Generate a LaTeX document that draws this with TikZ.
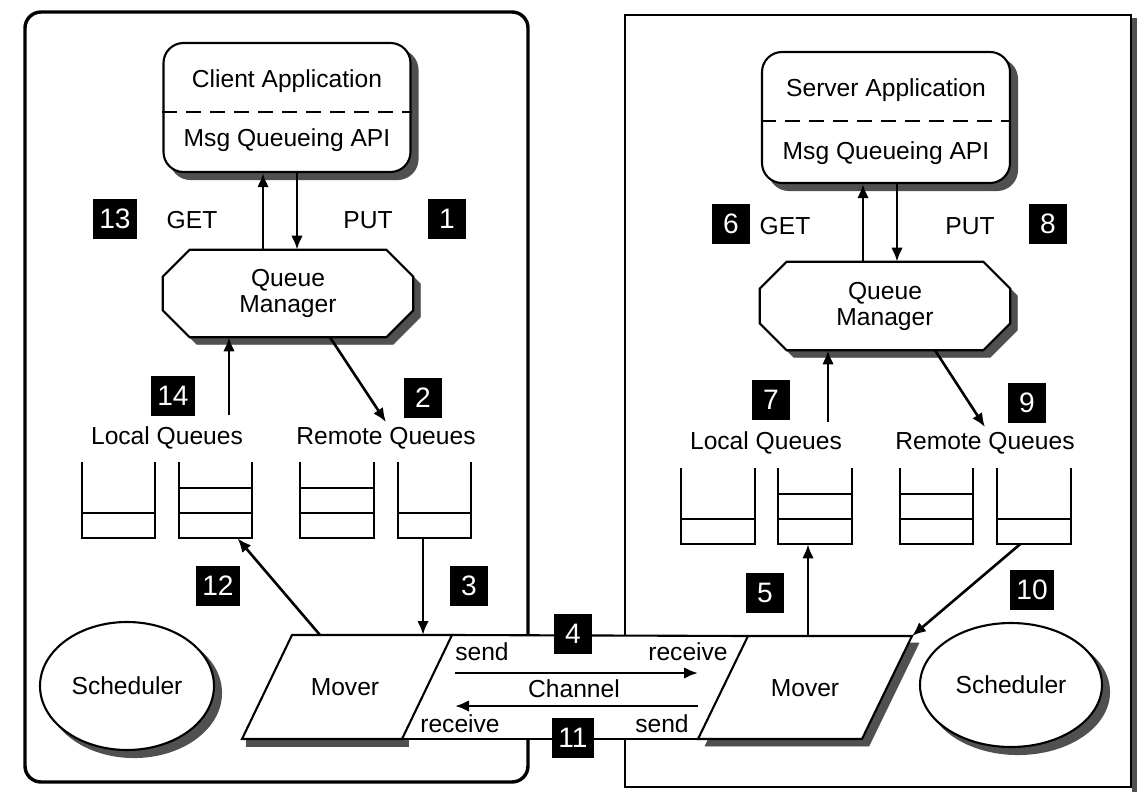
\documentclass[tikz,border=0pt]{standalone}
\usepackage{fontspec}
\setmainfont{Liberation Sans}
\usetikzlibrary{arrows.meta,shapes.geometric}
\newdimen\pxu
\pxu=0.025cm
\definecolor{shadowgray}{RGB}{80,80,80}

\tikzset{
  shadowed/.style={fill=white, preaction={draw=shadowgray, fill=shadowgray, transform canvas={xshift=0.175cm, yshift=-0.175cm}}},
  num/.style={fill=black, text=white, inner xsep=6\pxu, inner ysep=0pt, minimum width=38\pxu, minimum height=40\pxu, font=\fontsize{20}{20}\selectfont},
  flow/.style={line width=2.6\pxu, -{Latex[length=0.35cm, width=0.29cm]}},
  outline/.style={line width=2.1\pxu},
  queue/.style={minimum width=73\pxu, minimum height=76\pxu, inner sep=0pt},
  frame/.style={line width=3.4\pxu, rounded corners=16\pxu}
}

\begin{document}
\begin{tikzpicture}[x=\pxu, y=-\pxu, font=\fontsize{17.5}{18.5}\selectfont]
\useasboundingbox (0,0) rectangle (1140,802);

% the two systems
\draw[frame] (528,635) -- (528,12) -- (25,12) -- (25,782) -- (528,782) -- (528,739);
\draw[line width=2.4\pxu] (625,636) -- (625,15) -- (1131,15) -- (1131,787) -- (625,787) -- (625,739);
\draw[line width=5\pxu, shadowgray] (1134.5,18) -- (1134.5,792);

% client side
\node[shadowed, draw, outline, rounded corners=20\pxu, minimum width=247\pxu, minimum height=129\pxu] (cbox) at (287,107.5) {};
\draw[outline, dash pattern=on 15\pxu off 9\pxu] ([yshift=-4.5\pxu]cbox.west) -- ([yshift=-4.5\pxu]cbox.east);
\node (capp) at (287,81) {Client Application};
\node (capi) at (287,140) {Msg Queueing API};

\node[minimum width=250\pxu, minimum height=87\pxu] (cqm) at (288,293.5) {};
\draw[shadowed, outline] ([xshift=27\pxu]cqm.north west) -- ([xshift=-27\pxu]cqm.north east)
  -- ([yshift=-27\pxu]cqm.north east) -- ([yshift=27\pxu]cqm.south east)
  -- ([xshift=-27\pxu]cqm.south east) -- ([xshift=27\pxu]cqm.south west)
  -- ([yshift=27\pxu]cqm.south west) -- ([yshift=-27\pxu]cqm.north west) -- cycle;
\node[align=center] (cqmtext) at (cqm) {Queue\\Manager};

\node (cget) at (192,220) {GET};
\node (cput) at (368,220) {PUT};
\node (clq) at (167,438) {Local Queues};
\node (crq) at (386,438) {Remote Queues};

\node[queue] (cq1) at (118.5,500) {};
\node[queue] (cq2) at (215.5,500) {};
\node[queue] (cq3) at (337,500) {};
\node[queue] (cq4) at (434.5,500) {};
\draw[outline] (cq1.north west) -- (cq1.south west) -- (cq1.south east) -- (cq1.north east);
\draw[outline] ([yshift=25\pxu]cq1.south west) -- ([yshift=25\pxu]cq1.south east);
\draw[outline] (cq2.north west) -- (cq2.south west) -- (cq2.south east) -- (cq2.north east);
\draw[outline] ([yshift=25\pxu]cq2.south west) -- ([yshift=25\pxu]cq2.south east);
\draw[outline] ([yshift=50\pxu]cq2.south west) -- ([yshift=50\pxu]cq2.south east);
\draw[outline] (cq3.north west) -- (cq3.south west) -- (cq3.south east) -- (cq3.north east);
\draw[outline] ([yshift=25\pxu]cq3.south west) -- ([yshift=25\pxu]cq3.south east);
\draw[outline] ([yshift=50\pxu]cq3.south west) -- ([yshift=50\pxu]cq3.south east);
\draw[outline] (cq4.north west) -- (cq4.south west) -- (cq4.south east) -- (cq4.north east);
\draw[outline] ([yshift=25\pxu]cq4.south west) -- ([yshift=25\pxu]cq4.south east);

\node[ellipse, draw, outline, shadowed, minimum width=174\pxu, minimum height=128\pxu, inner sep=0pt] (csch) at (127,686) {Scheduler};

% server side
\node[shadowed, draw, outline, rounded corners=20\pxu, minimum width=248\pxu, minimum height=131\pxu] (sbox) at (886,117.5) {};
\draw[outline, dash pattern=on 15\pxu off 9\pxu] ([yshift=-3.5\pxu]sbox.west) -- ([yshift=-3.5\pxu]sbox.east);
\node (sapp) at (886,90) {Server Application};
\node (sapi) at (886,153) {Msg Queueing API};

\node[minimum width=250\pxu, minimum height=88\pxu] (sqm) at (885,306) {};
\draw[shadowed, outline] ([xshift=27\pxu]sqm.north west) -- ([xshift=-27\pxu]sqm.north east)
  -- ([yshift=-27\pxu]sqm.north east) -- ([yshift=27\pxu]sqm.south east)
  -- ([xshift=-27\pxu]sqm.south east) -- ([xshift=27\pxu]sqm.south west)
  -- ([yshift=27\pxu]sqm.south west) -- ([yshift=-27\pxu]sqm.north west) -- cycle;
\node[align=center] (sqmtext) at (sqm) {Queue\\Manager};

\node (sget) at (785,226) {GET};
\node (sput) at (970,226) {PUT};
\node (slq) at (766,443) {Local Queues};
\node (srq) at (985,443) {Remote Queues};

\node[queue] (sq1) at (718,506) {};
\node[queue] (sq2) at (815,506) {};
\node[queue] (sq3) at (936.5,506) {};
\node[queue] (sq4) at (1034,506) {};
\draw[outline] (sq1.north west) -- (sq1.south west) -- (sq1.south east) -- (sq1.north east);
\draw[outline] ([yshift=25\pxu]sq1.south west) -- ([yshift=25\pxu]sq1.south east);
\draw[outline] (sq2.north west) -- (sq2.south west) -- (sq2.south east) -- (sq2.north east);
\draw[outline] ([yshift=25\pxu]sq2.south west) -- ([yshift=25\pxu]sq2.south east);
\draw[outline] ([yshift=50\pxu]sq2.south west) -- ([yshift=50\pxu]sq2.south east);
\draw[outline] (sq3.north west) -- (sq3.south west) -- (sq3.south east) -- (sq3.north east);
\draw[outline] ([yshift=25\pxu]sq3.south west) -- ([yshift=25\pxu]sq3.south east);
\draw[outline] ([yshift=50\pxu]sq3.south west) -- ([yshift=50\pxu]sq3.south east);
\draw[outline] (sq4.north west) -- (sq4.south west) -- (sq4.south east) -- (sq4.north east);
\draw[outline] ([yshift=25\pxu]sq4.south west) -- ([yshift=25\pxu]sq4.south east);

\node[ellipse, draw, outline, shadowed, minimum width=182\pxu, minimum height=124\pxu, inner sep=0pt] (ssch) at (1011,685) {Scheduler};

% movers and channel
\coordinate (cmnw) at (292,635);
\coordinate (cmne) at (452,635);
\coordinate (cmse) at (402,739);
\coordinate (cmsw) at (242,739);
\coordinate (smnw) at (748,636);
\coordinate (smne) at (912,636);
\coordinate (smse) at (862,739);
\coordinate (smsw) at (698,739);
\draw[line width=8\pxu, shadowgray] (246,743) -- (409,743);
\draw[outline, fill=white] (cmnw) -- (cmne) -- (cmse) -- (cmsw) -- cycle;
\draw[outline, shadowed] (smnw) -- (smne) -- (smse) -- (smsw) -- cycle;
\draw[outline] (cmne) -- (smnw);
\draw[outline] (cmse) -- (smsw);
\node (cmover) at (345,687) {Mover};
\node (smover) at (805,688) {Mover};

\node (csend) at (482,652) {send};
\node (srecv) at (688,652) {receive};
\node (chan) at (574,689) {Channel};
\node (crecv) at (460,724) {receive};
\node (ssend) at (662,724) {send};
\coordinate (ch1) at (455,673);
\coordinate (ch2) at (698,673);
\coordinate (ch3) at (698,706);
\coordinate (ch4) at (455,706);
\draw[flow] (ch1) -- (ch2);
\draw[flow] (ch3) -- (ch4);

% flows
\draw[flow] ([xshift=-25\pxu]cqm.north) -- ([xshift=-24\pxu]cbox.south);
\draw[flow] ([xshift=10\pxu]cbox.south) -- ([xshift=9\pxu]cqm.north);
\coordinate (c14) at (229,415);
\draw[flow] (c14) -- (c14 |- cqm.south);
\draw[flow] ([xshift=42\pxu]cqm.south) -- (crq.north);
\coordinate (c12) at (320,635);
\draw[flow] (c12) -- ([xshift=22\pxu]cq2.south);
\coordinate (c3) at (423,635);
\draw[flow] (c3 |- cq4.south) -- (c3);

\draw[flow] ([xshift=-22\pxu]sqm.north) -- ([xshift=-23\pxu]sbox.south);
\draw[flow] ([xshift=11\pxu]sbox.south) -- ([xshift=12\pxu]sqm.north);
\coordinate (s7) at (828,422);
\draw[flow] (s7) -- (s7 |- sqm.south);
\draw[flow] ([xshift=50\pxu]sqm.south) -- (srq.north);
\coordinate (s5) at (808,636);
\draw[flow] (s5) -- (s5 |- sq2.south);
\draw[flow] ([xshift=-14\pxu]sq4.south) -- (smne);

% step numbers
\node[num] (n13) at (115,219) {13};
\node[num] (n1) at (447,219) {1};
\node[num] (n14) at (173,396) {14};
\node[num] (n2) at (423,398) {2};
\node[num] (n12) at (218,586) {12};
\node[num] (n3) at (469,586) {3};
\node[num] (n4) at (573,634) {4};
\node[num] (n11) at (573,738) {11};
\node[num] (n6) at (731,224) {6};
\node[num] (n8) at (1048,224) {8};
\node[num] (n7) at (771,400) {7};
\node[num] (n9) at (1027,403) {9};
\node[num] (n5) at (765,593) {5};
\node[num] (n10) at (1032,590) {10};
\end{tikzpicture}
\end{document}
